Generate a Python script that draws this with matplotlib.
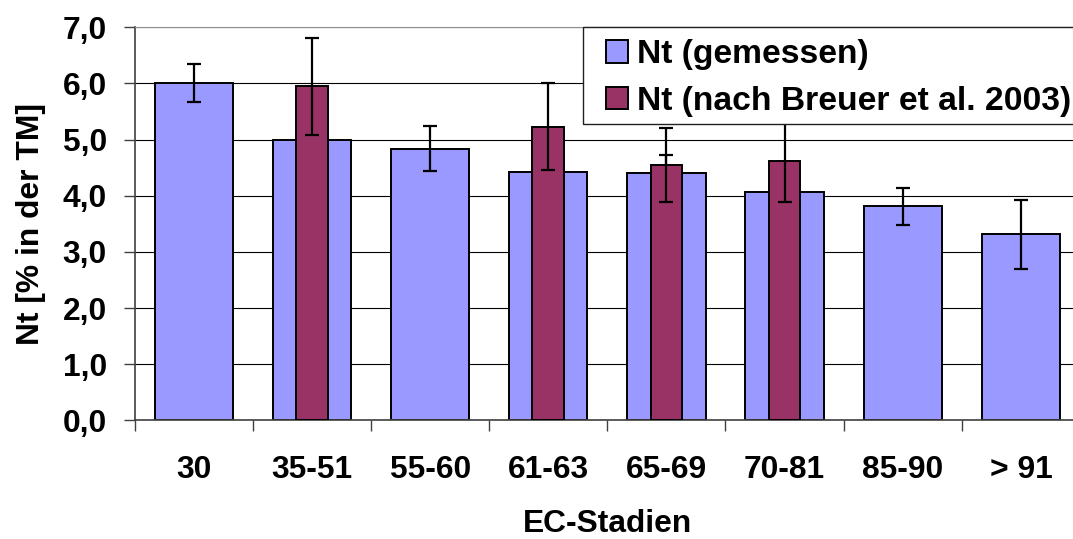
import numpy as np
import matplotlib.pyplot as plt
from matplotlib.patches import Rectangle

plt.rcParams['font.family'] = ['Liberation Sans', 'DejaVu Sans']
plt.rcParams['font.weight'] = 'bold'
plt.rcParams['axes.labelweight'] = 'bold'

stadien = ["30", "35-51", "55-60", "61-63", "65-69", "70-81", "85-90", "> 91"]
# Nt gemessen (mean and error)
nt_gem = [6.01, 4.99, 4.84, 4.43, 4.40, 4.06, 3.81, 3.31]
nt_gem_err = [0.34, 0.35, 0.40, 0.35, 0.33, 0.35, 0.33, 0.62]
# Nt nach Breuer et al. 2003 (only some stages)
nt_breuer = [np.nan, 5.95, np.nan, 5.23, 4.55, 4.62, np.nan, np.nan]
nt_breuer_err = [np.nan, 0.86, np.nan, 0.77, 0.66, 0.73, np.nan, np.nan]
yticks = [0, 1, 2, 3, 4, 5, 6, 7]

blue = "#9999FF"
maroon = "#993366"
fs = 22.9

fig = plt.figure(figsize=(10.73, 5.39), dpi=100)
ax = fig.add_axes([0.1255, 0.2202, 0.881, 0.7292])

x = np.arange(len(stadien)) + 0.5
ax.bar(x, nt_gem, width=0.662, color=blue, edgecolor="black", linewidth=1.4,
       zorder=2, label="Nt (gemessen)")
ax.errorbar(x, nt_gem, yerr=nt_gem_err, fmt="none", ecolor="black",
            elinewidth=1.6, capsize=4.7, capthick=1.6, zorder=2.5)
ax.bar(x, nt_breuer, width=0.268, color=maroon, edgecolor="black", linewidth=1.4,
       zorder=3, label="Nt (nach Breuer et al. 2003)")
ax.errorbar(x, nt_breuer, yerr=nt_breuer_err, fmt="none", ecolor="black",
            elinewidth=1.6, capsize=4.7, capthick=1.6, zorder=3.5)

ax.set_xlim(0, len(stadien))
ax.set_ylim(0, 7)
ax.set_yticks(yticks)
ax.set_yticklabels([f"{v:.1f}".replace(".", ",") for v in yticks], fontsize=fs)
ax.yaxis.grid(True, color="black", linewidth=0.8, zorder=0)
ax.set_axisbelow(True)

ax.set_xticks(x)
ax.set_xticklabels(stadien, fontsize=fs)
ax.set_xticks(np.arange(len(stadien) + 1), minor=True)
ax.tick_params(axis="x", which="major", length=0, pad=25)
ax.tick_params(axis="x", which="minor", length=8, width=1, color="#404040", direction="out")
ax.tick_params(axis="y", length=8, width=1, color="#404040", direction="out", pad=12)

for s in ["left", "bottom"]:
    ax.spines[s].set_color("#404040")
    ax.spines[s].set_linewidth(1.2)
ax.spines["top"].set_color("#909090")
ax.spines["right"].set_visible(False)

ax.set_xlabel("EC-Stadien", fontsize=fs, labelpad=17)
ax.set_ylabel("Nt [% in der TM]", fontsize=fs, labelpad=12)

# legend box
fig.patches.append(Rectangle((583 / 1073, 1 - 124 / 539), 500 / 1073, 97 / 539,
                             transform=fig.transFigure, facecolor="white",
                             edgecolor="#202020", linewidth=1, zorder=4))
leg = fig.legend(loc="upper left", bbox_to_anchor=(598 / 1073, 1 - 31 / 539),
                 frameon=False, fontsize=24.2, handlelength=0.65, handleheight=0.65,
                 handletextpad=0.27, labelspacing=0.45, borderpad=0.25,
                 borderaxespad=0)
leg.set_zorder(5)
for t in leg.get_texts():
    t.set_fontweight("bold")

fig.savefig("out.png", dpi=100)
